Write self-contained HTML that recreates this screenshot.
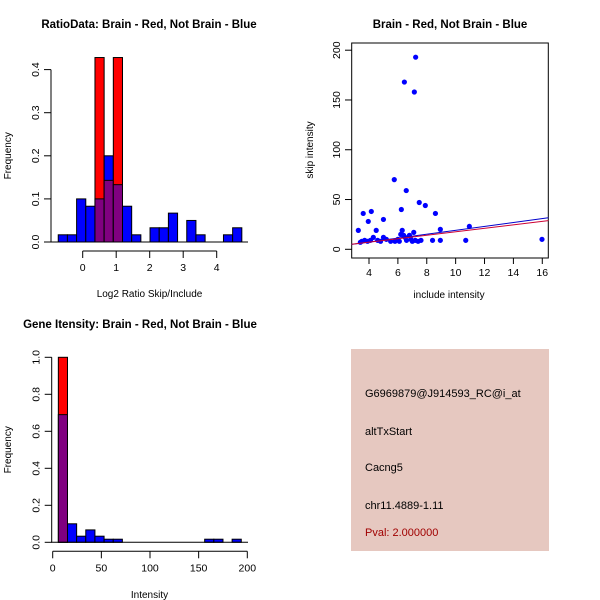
<!DOCTYPE html>
<html><head><meta charset="utf-8"><style>
body{margin:0;background:#fff}
svg{display:block;font-family:"Liberation Sans",sans-serif}
</style></head><body>
<svg id="s" width="600" height="600" xmlns="http://www.w3.org/2000/svg">
<rect x="0" y="0" width="600" height="600" fill="#fff"/>
<g id="p1"></g>
<g id="p2"></g>
<g id="p3"></g>
<g>
<rect x="351" y="349" width="198" height="202" fill="#e6c8c0"/>
<g font-size="11" fill="#000">
<text x="365" y="397">G6969879@J914593_RC@i_at</text>
<text x="365" y="435">altTxStart</text>
<text x="365" y="471">Cacng5</text>
<text x="365" y="509">chr11.4889-1.11</text>
<text x="365" y="536" fill="#a00000">Pval: 2.000000</text>
</g></g>
</svg>
<script>
// Ratio histogram data
const ratioBlue=[0.0167,0.0167,0.1,0.083,0.1,0.2,0.133,0.083,0.0167,0,0.033,0.033,0.067,0,0.05,0.0167,0,0,0.0167,0.033];
const ratioRed=[0,0,0,0,0.428,0.143,0.428,0,0,0,0,0,0,0,0,0,0,0,0,0];
const ratioStart=-0.73, ratioWidth=0.274;
const ratioXTicks=[0,1,2,3,4];
const ratioYTicks=["0.0","0.1","0.2","0.3","0.4"];
// Gene intensity histogram data
const intBlue=[0.69,0.1,0.033,0.067,0.033,0.0167,0.0167,0,0,0,0,0,0,0,0,0,0.0167,0.0167,0,0.0167];
const intRed=[1.0,0,0,0,0,0,0,0,0,0,0,0,0,0,0,0,0,0,0,0];
const intStart=5.8, intWidth=9.4;
const intXTicks=[0,50,100,150,200];
const intYTicks=["0.0","0.2","0.4","0.6","0.8","1.0"];
// Scatter data
const scatX=[7.23,6.45,7.14,5.75,6.58,7.48,7.9,6.24,4.16,3.6,8.6,3.95,5.0,3.26,4.5,8.94,10.95,10.7,8.94,8.4,15.98,3.4,3.7,3.9,4.1,4.3,4.6,5.0,5.2,5.5,5.8,6.0,6.2,6.3,6.4,6.5,6.6,6.8,6.9,7.1,7.2,7.4,7.6,3.5,4.8,6.1,7.0];
const scatY=[193,168,158,70,59,47,44,40,38,36,36,28,30,19,19,20,23,9,9,9,10,7,9,8,9,12,9,12,10,8,8,10,15,19,14,12,9,14,10,17,9,8,9,8,8,8,8];
const fitIntercept=[-0.5,0.2];
const fitSlope=[1.96,1.74];
const fitColors=["#0000cc","#cc0033"];
const scatXTicks=[4,6,8,10,12,14,16];
const scatYTicks=[0,50,100,150,200];

const NS="http://www.w3.org/2000/svg";
function mk(p,t,a){const e=document.createElementNS(NS,t);for(const k in a)e.setAttribute(k,a[k]);p.appendChild(e);return e;}

function hist(g,o){
  const sx=v=>o.x0+(v-o.d0)*o.kx, sy=v=>o.y0-v*o.ky;
  for(let i=0;i<o.blue.length;i++){
    const a=o.start+i*o.w, b=a+o.w, bl=o.blue[i], rd=o.red[i];
    const mx=Math.max(bl,rd), mn=Math.min(bl,rd);
    if(mx>0){const r=mk(g,'rect',{x:sx(a),y:sy(mx),width:sx(b)-sx(a),height:sy(0)-sy(mx),fill:rd>bl?'#ff0000':'#0000ff',stroke:'#000','stroke-width':1});
      
      }
    if(mn>0){const r=mk(g,'rect',{x:sx(a),y:sy(mn),width:sx(b)-sx(a),height:sy(0)-sy(mn),fill:'#800080',stroke:'#000','stroke-width':1});
      
      }
  }
  mk(g,'line',{x1:o.ax0,x2:o.ax1,y1:sy(0),y2:sy(0),stroke:'#000'});
  mk(g,'line',{x1:o.yax,x2:o.yax,y1:sy(0),y2:sy(o.ymax),stroke:'#000'});
  o.yt.forEach(t=>{const v=parseFloat(t);mk(g,'line',{x1:o.yax-7,x2:o.yax,y1:sy(v),y2:sy(v),stroke:'#000'});
    const tx=mk(g,'text',{x:o.yax-12,y:sy(v),'font-size':10.5,'text-anchor':'middle',transform:`rotate(-90 ${o.yax-12} ${sy(v)})`});tx.textContent=t;
    
    });
  const xa=o.y0+9;
  mk(g,'line',{x1:sx(o.xt[0]),x2:sx(o.xt[o.xt.length-1]),y1:xa,y2:xa,stroke:'#000'});
  o.xt.forEach(v=>{mk(g,'line',{x1:sx(v),x2:sx(v),y1:xa,y2:xa+7,stroke:'#000'});
    const tx=mk(g,'text',{x:sx(v),y:xa+20,'font-size':10.5,'text-anchor':'middle'});tx.textContent=v;
    
    });
  let t=mk(g,'text',{x:o.tx,y:o.ty,'font-size':11.5,'font-weight':'bold','text-anchor':'middle'});t.textContent=o.title;
  
  
  t=mk(g,'text',{x:(o.ax0+o.ax1)/2,y:o.xly,'font-size':10,'text-anchor':'middle'});t.textContent=o.xl;
  
  
  const yy=(sy(0)+sy(o.ymax))/2;
  t=mk(g,'text',{x:11,y:yy,'font-size':10,'text-anchor':'middle',transform:`rotate(-90 11 ${yy})`});t.textContent='Frequency';
  
  
}
hist(document.getElementById('p1'),{blue:ratioBlue,red:ratioRed,start:ratioStart,w:ratioWidth,x0:82.7,d0:0,kx:33.5,y0:242,ky:431,ax0:51,ax1:248,yax:51,ymax:0.4,yt:ratioYTicks,xt:ratioXTicks,title:'RatioData: Brain - Red, Not Brain - Blue',tx:149,ty:28,xl:'Log2 Ratio Skip/Include',xly:297});
hist(document.getElementById('p3'),{blue:intBlue,red:intRed,start:intStart,w:intWidth,x0:52.7,d0:0,kx:0.973,y0:542.3,ky:185,ax0:51,ax1:248,yax:51.7,ymax:1.0,yt:intYTicks,xt:intXTicks,title:'Gene Itensity: Brain - Red, Not Brain - Blue',tx:140,ty:328,xl:'Intensity',xly:598});

(function(){
  const g=document.getElementById('p2');
  const sx=v=>369+(v-4)*14.44, sy=v=>249.3-v*0.9955;
  mk(g,'rect',{x:351.7,y:43,width:196.6,height:215,fill:'none',stroke:'#000'});
  scatX.forEach((x,i)=>{const c=mk(g,'circle',{cx:sx(x),cy:sy(scatY[i]),r:2.6,fill:'#0000ff'});
    
    });
  fitIntercept.forEach((b,i)=>{const x1=2.8,x2=16.42;const l=mk(g,'line',{x1:sx(x1),x2:sx(x2),y1:sy(b+fitSlope[i]*x1),y2:sy(b+fitSlope[i]*x2),stroke:fitColors[i],'stroke-width':1});
    
    });
  scatXTicks.forEach(v=>{mk(g,'line',{x1:sx(v),x2:sx(v),y1:258,y2:264,stroke:'#000'});
    const t=mk(g,'text',{x:sx(v),y:276,'font-size':10.5,'text-anchor':'middle'});t.textContent=v;
    
    });
  scatYTicks.forEach(v=>{mk(g,'line',{x1:345,x2:351.7,y1:sy(v),y2:sy(v),stroke:'#000'});
    const t=mk(g,'text',{x:340,y:sy(v),'font-size':10.5,'text-anchor':'middle',transform:`rotate(-90 340 ${sy(v)})`});t.textContent=v;
    
    });
  let t=mk(g,'text',{x:450,y:28,'font-size':11.5,'font-weight':'bold','text-anchor':'middle'});t.textContent='Brain - Red, Not Brain - Blue';
  
  
  t=mk(g,'text',{x:449,y:298,'font-size':10,'text-anchor':'middle'});t.textContent='include intensity';
  
  
  t=mk(g,'text',{x:313,y:150,'font-size':10,'text-anchor':'middle',transform:'rotate(-90 313 150)'});t.textContent='skip intensity';
  
  
})();
</script>
</body></html>
